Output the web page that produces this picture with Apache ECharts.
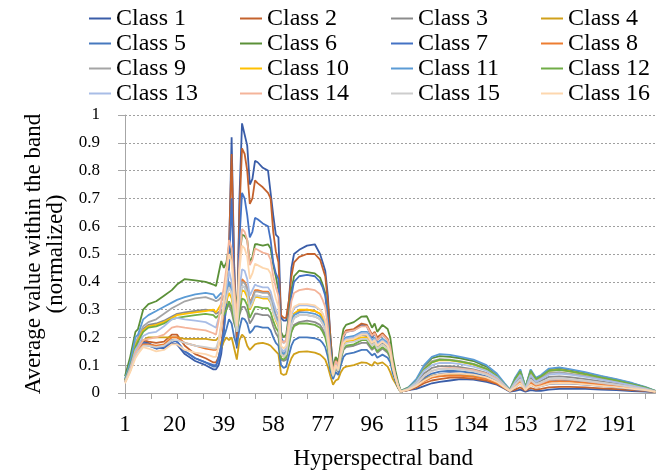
<!DOCTYPE html>
<html><head><meta charset="utf-8">
<script src="https://cdn.jsdelivr.net/npm/echarts@6/dist/echarts.min.js"></script>
<style>html,body{margin:0;padding:0;background:#fff}#c{width:657px;height:475px}</style>
</head><body><div id="c"></div>
<script>
// x categories: hyperspectral bands 1..205
const categories = [];
for (let b = 1; b <= 205; b++) categories.push(String(b));

const sampleBands = [1,3,5,6,8,10,13,16,19,21,24,28,32,35,36,
37,38,39,40,41,42,43,44,45,46,47,48,49,50,51,52,54,56,57,58,59,60,61,
62,63,64,65,66,68,71,74,76,77,78,79,80,
81,82,83,84,85,86,89,92,94,96,97,98,100,102,103,104,105,106,107,
110,113,116,119,122,126,130,135,140,144,147,
149,151,153,155,157,159,161,164,168,172,178,184,190,196,201,205];

const class1 = [0.045,0.09,0.15,0.17,0.185,0.18,0.165,0.16,0.18,0.175,0.14,0.115,0.1,0.085,0.085,
0.1,0.14,0.22,0.33,0.5,0.92,0.45,0.16,0.7,0.97,0.93,0.89,0.75,0.77,0.835,0.83,0.81,0.8,0.72,0.64,0.57,0.56,0.27,
0.26,0.26,0.33,0.45,0.5,0.515,0.53,0.535,0.5,0.47,0.44,0.35,0.2,
0.09,0.12,0.1,0.15,0.2,0.22,0.225,0.245,0.24,0.2,0.215,0.19,0.21,0.19,0.16,0.1,0.06,0.03,0.005,
0.01,0.015,0.025,0.035,0.04,0.045,0.05,0.048,0.04,0.03,0.015,
0.005,0.008,0.012,0.005,0.01,0.008,0.008,0.012,0.015,0.015,0.015,0.012,0.01,0.007,0.005,0.003];
const class2 = [0.045,0.09,0.16,0.18,0.19,0.185,0.18,0.185,0.21,0.21,0.17,0.14,0.125,0.11,0.11,
0.13,0.17,0.25,0.36,0.52,0.86,0.45,0.2,0.65,0.88,0.86,0.8,0.68,0.7,0.765,0.755,0.74,0.72,0.7,0.58,0.51,0.47,0.28,
0.27,0.27,0.33,0.42,0.47,0.49,0.5,0.5,0.48,0.45,0.42,0.33,0.2,
0.08,0.12,0.1,0.16,0.21,0.225,0.23,0.25,0.245,0.21,0.22,0.2,0.215,0.195,0.16,0.1,0.06,0.03,0.005,
0.01,0.02,0.035,0.045,0.05,0.055,0.055,0.052,0.045,0.033,0.017,
0.006,0.012,0.02,0.008,0.018,0.012,0.015,0.02,0.022,0.022,0.02,0.017,0.014,0.01,0.007,0.004];
const class3 = [0.045,0.1,0.17,0.185,0.23,0.245,0.25,0.26,0.275,0.285,0.29,0.295,0.3,0.295,0.285,
0.29,0.3,0.28,0.3,0.32,0.29,0.25,0.22,0.28,0.31,0.31,0.29,0.25,0.265,0.285,0.285,0.28,0.28,0.27,0.24,0.215,0.2,0.12,
0.115,0.12,0.17,0.22,0.245,0.255,0.26,0.255,0.245,0.23,0.21,0.165,0.1,
0.055,0.09,0.075,0.12,0.155,0.165,0.17,0.18,0.18,0.155,0.165,0.145,0.16,0.145,0.125,0.08,0.05,0.022,0.004,
0.015,0.035,0.07,0.09,0.097,0.097,0.093,0.085,0.072,0.05,0.025,
0.008,0.035,0.055,0.014,0.055,0.035,0.044,0.058,0.06,0.057,0.05,0.042,0.034,0.024,0.015,0.005];
const class4 = [0.04,0.08,0.14,0.16,0.19,0.2,0.2,0.2,0.2,0.2,0.195,0.195,0.195,0.19,0.19,
0.2,0.16,0.185,0.2,0.19,0.2,0.16,0.12,0.19,0.21,0.2,0.17,0.155,0.165,0.175,0.178,0.18,0.175,0.17,0.16,0.15,0.14,0.07,
0.065,0.068,0.1,0.125,0.14,0.148,0.15,0.145,0.138,0.13,0.12,0.095,0.06,
0.03,0.045,0.05,0.075,0.09,0.095,0.1,0.11,0.108,0.098,0.112,0.105,0.11,0.095,0.075,0.05,0.035,0.018,0.004,
0.014,0.03,0.05,0.062,0.066,0.068,0.066,0.062,0.053,0.038,0.019,
0.007,0.028,0.045,0.012,0.042,0.028,0.034,0.044,0.046,0.044,0.039,0.033,0.026,0.019,0.012,0.004];
const class5 = [0.04,0.085,0.145,0.16,0.175,0.17,0.16,0.165,0.19,0.185,0.15,0.125,0.11,0.095,0.095,
0.13,0.17,0.2,0.23,0.265,0.25,0.2,0.17,0.23,0.27,0.265,0.25,0.215,0.225,0.24,0.24,0.235,0.235,0.225,0.2,0.18,0.17,0.1,
0.09,0.095,0.135,0.17,0.19,0.2,0.2,0.197,0.19,0.18,0.165,0.13,0.08,
0.05,0.075,0.065,0.1,0.13,0.14,0.145,0.155,0.155,0.135,0.142,0.127,0.138,0.127,0.11,0.07,0.043,0.02,0.004,
0.014,0.03,0.055,0.07,0.077,0.08,0.078,0.072,0.06,0.043,0.021,
0.007,0.025,0.04,0.011,0.04,0.026,0.032,0.042,0.045,0.043,0.038,0.032,0.026,0.018,0.011,0.004];
const class6 = [0.06,0.13,0.22,0.23,0.3,0.32,0.33,0.35,0.37,0.39,0.41,0.405,0.4,0.39,0.385,
0.43,0.475,0.45,0.47,0.53,0.5,0.38,0.3,0.48,0.57,0.565,0.55,0.47,0.49,0.535,0.535,0.53,0.535,0.52,0.46,0.42,0.37,0.22,
0.2,0.21,0.28,0.37,0.42,0.44,0.435,0.43,0.415,0.39,0.36,0.28,0.17,
0.09,0.13,0.115,0.18,0.23,0.245,0.255,0.275,0.276,0.235,0.25,0.22,0.245,0.23,0.2,0.13,0.08,0.04,0.008,
0.02,0.045,0.095,0.125,0.133,0.13,0.125,0.115,0.095,0.065,0.03,
0.012,0.05,0.08,0.02,0.08,0.05,0.06,0.085,0.088,0.083,0.072,0.06,0.048,0.035,0.02,0.007];
const class7 = [0.04,0.085,0.15,0.165,0.18,0.175,0.16,0.165,0.19,0.185,0.15,0.125,0.11,0.1,0.1,
0.12,0.16,0.23,0.32,0.45,0.7,0.4,0.22,0.55,0.72,0.7,0.64,0.56,0.58,0.63,0.625,0.61,0.6,0.55,0.47,0.43,0.41,0.2,
0.18,0.19,0.26,0.35,0.4,0.42,0.425,0.42,0.4,0.38,0.35,0.27,0.16,
0.07,0.1,0.085,0.13,0.17,0.19,0.195,0.21,0.205,0.175,0.185,0.165,0.18,0.165,0.14,0.09,0.055,0.025,0.005,
0.012,0.025,0.045,0.06,0.068,0.072,0.07,0.066,0.055,0.04,0.02,
0.006,0.02,0.035,0.01,0.03,0.02,0.025,0.032,0.035,0.034,0.03,0.026,0.02,0.014,0.009,0.005];
const class8 = [0.04,0.085,0.14,0.155,0.175,0.175,0.17,0.175,0.2,0.2,0.18,0.17,0.16,0.155,0.155,
0.18,0.24,0.3,0.35,0.4,0.38,0.29,0.22,0.35,0.41,0.4,0.38,0.325,0.345,0.37,0.37,0.365,0.365,0.35,0.31,0.28,0.26,0.15,
0.14,0.15,0.205,0.26,0.285,0.295,0.3,0.295,0.285,0.27,0.245,0.19,0.11,
0.065,0.1,0.085,0.14,0.18,0.195,0.2,0.215,0.215,0.185,0.195,0.175,0.19,0.175,0.15,0.095,0.057,0.026,0.005,
0.012,0.025,0.042,0.055,0.06,0.063,0.062,0.058,0.05,0.036,0.018,
0.007,0.025,0.04,0.01,0.037,0.025,0.03,0.04,0.043,0.041,0.036,0.03,0.024,0.017,0.011,0.004];
const class9 = [0.05,0.1,0.18,0.2,0.24,0.255,0.265,0.285,0.305,0.315,0.33,0.34,0.345,0.335,0.33,
0.335,0.345,0.33,0.36,0.39,0.36,0.29,0.24,0.34,0.4,0.395,0.375,0.32,0.34,0.365,0.365,0.36,0.36,0.345,0.31,0.28,0.255,0.15,
0.14,0.15,0.195,0.245,0.27,0.28,0.28,0.275,0.265,0.25,0.23,0.18,0.11,
0.065,0.1,0.085,0.14,0.18,0.19,0.195,0.21,0.21,0.18,0.19,0.17,0.185,0.17,0.15,0.095,0.06,0.028,0.005,
0.018,0.045,0.09,0.115,0.122,0.12,0.115,0.105,0.088,0.062,0.03,
0.01,0.045,0.07,0.018,0.07,0.045,0.055,0.072,0.075,0.07,0.062,0.052,0.042,0.03,0.018,0.007];
const class10 = [0.045,0.1,0.17,0.19,0.225,0.24,0.245,0.255,0.27,0.28,0.285,0.29,0.295,0.3,0.29,
0.305,0.32,0.31,0.33,0.36,0.34,0.28,0.23,0.31,0.37,0.365,0.345,0.3,0.32,0.345,0.345,0.34,0.34,0.325,0.29,0.26,0.24,0.14,
0.13,0.14,0.2,0.255,0.285,0.3,0.3,0.295,0.285,0.27,0.245,0.19,0.11,
0.065,0.1,0.085,0.14,0.175,0.185,0.19,0.2,0.2,0.17,0.18,0.16,0.175,0.16,0.14,0.09,0.055,0.025,0.005,
0.018,0.042,0.085,0.11,0.118,0.117,0.112,0.102,0.085,0.06,0.03,
0.01,0.05,0.078,0.02,0.078,0.05,0.06,0.08,0.084,0.078,0.068,0.057,0.046,0.033,0.02,0.007];
const class11 = [0.05,0.11,0.2,0.21,0.265,0.28,0.295,0.31,0.325,0.335,0.345,0.355,0.36,0.355,0.34,
0.35,0.36,0.34,0.37,0.4,0.37,0.3,0.25,0.33,0.385,0.38,0.36,0.31,0.33,0.35,0.35,0.345,0.345,0.33,0.3,0.27,0.25,0.15,
0.14,0.15,0.2,0.255,0.28,0.29,0.29,0.285,0.275,0.26,0.24,0.19,0.12,
0.07,0.11,0.09,0.15,0.19,0.2,0.205,0.22,0.22,0.19,0.2,0.18,0.195,0.18,0.16,0.1,0.065,0.03,0.006,
0.02,0.05,0.1,0.13,0.14,0.137,0.13,0.12,0.1,0.07,0.035,
0.012,0.055,0.085,0.022,0.085,0.055,0.065,0.088,0.092,0.086,0.075,0.062,0.05,0.036,0.022,0.008];
const class12 = [0.045,0.095,0.165,0.185,0.22,0.235,0.24,0.25,0.265,0.27,0.275,0.28,0.285,0.28,0.27,
0.28,0.29,0.28,0.3,0.33,0.31,0.26,0.22,0.29,0.34,0.335,0.315,0.27,0.29,0.31,0.31,0.305,0.305,0.29,0.26,0.235,0.22,0.125,
0.12,0.13,0.175,0.22,0.24,0.25,0.25,0.245,0.235,0.22,0.2,0.16,0.095,
0.06,0.095,0.08,0.125,0.16,0.17,0.175,0.19,0.19,0.16,0.17,0.15,0.165,0.15,0.13,0.085,0.052,0.024,0.005,
0.018,0.042,0.085,0.11,0.12,0.118,0.113,0.104,0.087,0.06,0.03,
0.01,0.05,0.078,0.02,0.08,0.05,0.06,0.08,0.083,0.078,0.068,0.056,0.045,0.032,0.02,0.007];
const class13 = [0.04,0.09,0.155,0.17,0.205,0.215,0.22,0.24,0.265,0.27,0.265,0.26,0.255,0.24,0.235,
0.27,0.31,0.33,0.38,0.44,0.4,0.31,0.25,0.37,0.445,0.44,0.41,0.35,0.37,0.39,0.385,0.38,0.38,0.365,0.33,0.3,0.28,0.16,
0.15,0.16,0.22,0.28,0.305,0.315,0.315,0.31,0.3,0.285,0.26,0.2,0.12,
0.07,0.105,0.09,0.145,0.185,0.195,0.2,0.215,0.215,0.185,0.195,0.175,0.19,0.175,0.15,0.095,0.058,0.026,0.005,
0.016,0.04,0.08,0.1,0.108,0.108,0.104,0.095,0.08,0.057,0.028,
0.009,0.04,0.065,0.016,0.065,0.04,0.05,0.066,0.07,0.066,0.058,0.048,0.038,0.027,0.017,0.006];
const class14 = [0.04,0.085,0.145,0.16,0.19,0.195,0.2,0.21,0.235,0.24,0.235,0.23,0.225,0.215,0.21,
0.26,0.33,0.38,0.45,0.55,0.52,0.38,0.27,0.47,0.59,0.58,0.55,0.46,0.48,0.52,0.515,0.505,0.5,0.48,0.42,0.38,0.35,0.19,
0.18,0.19,0.26,0.33,0.36,0.37,0.375,0.37,0.355,0.335,0.31,0.24,0.14,
0.075,0.115,0.1,0.16,0.205,0.22,0.225,0.24,0.24,0.205,0.215,0.19,0.21,0.19,0.165,0.105,0.063,0.028,0.005,
0.014,0.03,0.06,0.08,0.088,0.09,0.088,0.082,0.07,0.05,0.025,
0.008,0.03,0.048,0.012,0.045,0.03,0.035,0.047,0.05,0.048,0.043,0.036,0.029,0.021,0.013,0.005];
const class15 = [0.04,0.08,0.135,0.15,0.17,0.17,0.165,0.17,0.19,0.19,0.18,0.17,0.165,0.16,0.16,
0.19,0.25,0.3,0.34,0.38,0.36,0.28,0.22,0.33,0.385,0.38,0.36,0.305,0.325,0.35,0.35,0.345,0.345,0.33,0.29,0.265,0.245,0.14,
0.13,0.14,0.195,0.245,0.27,0.28,0.28,0.275,0.265,0.25,0.23,0.18,0.105,
0.06,0.095,0.08,0.13,0.165,0.18,0.185,0.195,0.195,0.17,0.18,0.16,0.175,0.16,0.14,0.09,0.054,0.024,0.005,
0.014,0.032,0.062,0.08,0.086,0.087,0.085,0.078,0.066,0.047,0.023,
0.008,0.03,0.05,0.013,0.048,0.032,0.038,0.05,0.053,0.05,0.044,0.037,0.03,0.021,0.013,0.005];
const class16 = [0.035,0.075,0.125,0.14,0.165,0.16,0.15,0.155,0.175,0.175,0.155,0.145,0.14,0.13,0.13,
0.17,0.25,0.33,0.42,0.5,0.47,0.34,0.24,0.44,0.53,0.52,0.49,0.41,0.43,0.465,0.46,0.45,0.445,0.43,0.38,0.34,0.31,0.17,
0.16,0.17,0.23,0.29,0.31,0.32,0.32,0.315,0.3,0.285,0.26,0.2,0.12,
0.065,0.1,0.085,0.14,0.18,0.19,0.195,0.21,0.21,0.18,0.19,0.17,0.185,0.17,0.145,0.092,0.055,0.025,0.005,
0.012,0.025,0.045,0.06,0.067,0.07,0.07,0.066,0.056,0.04,0.02,
0.007,0.02,0.035,0.01,0.03,0.02,0.025,0.033,0.036,0.035,0.031,0.026,0.021,0.015,0.01,0.004];

const classNames = ['Class 1','Class 2','Class 3','Class 4','Class 5','Class 6','Class 7','Class 8',
  'Class 9','Class 10','Class 11','Class 12','Class 13','Class 14','Class 15','Class 16'];
const classValues = [class1,class2,class3,class4,class5,class6,class7,class8,
  class9,class10,class11,class12,class13,class14,class15,class16];
const colors = ['#3A5DA8','#C4622D','#8C8C8C','#D0A01A','#4679BE','#5B9038','#4472C4','#ED7D31',
  '#A5A5A5','#FFC000','#5B9BD5','#70AD47','#A8BDE6','#F4B49A','#CDCDCD','#FDD7AE'];
const yTicks = {min: 0, max: 1, step: 0.1};
const xLabelEvery = 19, xTickEvery = 10;

const FONT = "'Liberation Serif','DejaVu Serif',serif";

const series = classNames.map((n, i) => ({
  name: n, type: 'line', symbol: 'none', showSymbol: false, animation: false,
  lineStyle: {width: 1.8, color: colors[i]}, itemStyle: {color: colors[i]},
  data: sampleBands.map((b, j) => [String(b), classValues[i][j]])
}));

const legendCols = [0,1,2,3].map(c => classNames.filter((_, i) => i % 4 === c));
const legendLeft = [89, 240, 391, 541];

const chart = echarts.init(document.getElementById('c'), null, {renderer: 'canvas'});
chart.setOption({
  animation: false,
  backgroundColor: '#fff',
  color: colors,
  grid: {left: 125, right: 1.5, top: 115, bottom: 76, containLabel: false},
  legend: legendLeft.map((x, k) => ({
    data: legendCols[k], orient: 'vertical', left: x, top: 6, padding: 0, itemGap: 0,
    itemWidth: 22, itemHeight: 2, icon: 'rect', selectedMode: false,
    textStyle: {fontFamily: FONT, fontSize: 24, lineHeight: 25, color: '#000'}
  })),
  xAxis: {
    type: 'category', data: categories, boundaryGap: false,
    name: 'Hyperspectral band', nameLocation: 'middle', nameGap: 54,
    nameTextStyle: {fontFamily: FONT, fontSize: 23, color: '#000', padding: [0, 14, 0, 0]},
    axisLine: {lineStyle: {color: '#A6A6A6', width: 1}},
    axisTick: {show: true, interval: xTickEvery - 1, length: 6, lineStyle: {color: '#A6A6A6'}},
    axisLabel: {interval: xLabelEvery - 1, fontFamily: FONT, fontSize: 23, color: '#000', margin: 20},
    splitLine: {show: false}
  },
  yAxis: {
    type: 'value', min: yTicks.min, max: yTicks.max, interval: yTicks.step,
    name: 'Average value within the band\n(normalized)', nameLocation: 'middle', nameGap: 47,
    nameTextStyle: {fontFamily: FONT, fontSize: 23, lineHeight: 22, color: '#000'},
    axisLine: {show: true, lineStyle: {color: '#A6A6A6', width: 1}},
    axisTick: {show: true, length: 7, lineStyle: {color: '#A6A6A6'}},
    axisLabel: {fontFamily: FONT, fontSize: 17, color: '#000', margin: 25},
    splitLine: {show: true, lineStyle: {color: '#A0A0A0', type: [2, 2], width: 1}}
  },
  series: series
});
</script></body></html>
